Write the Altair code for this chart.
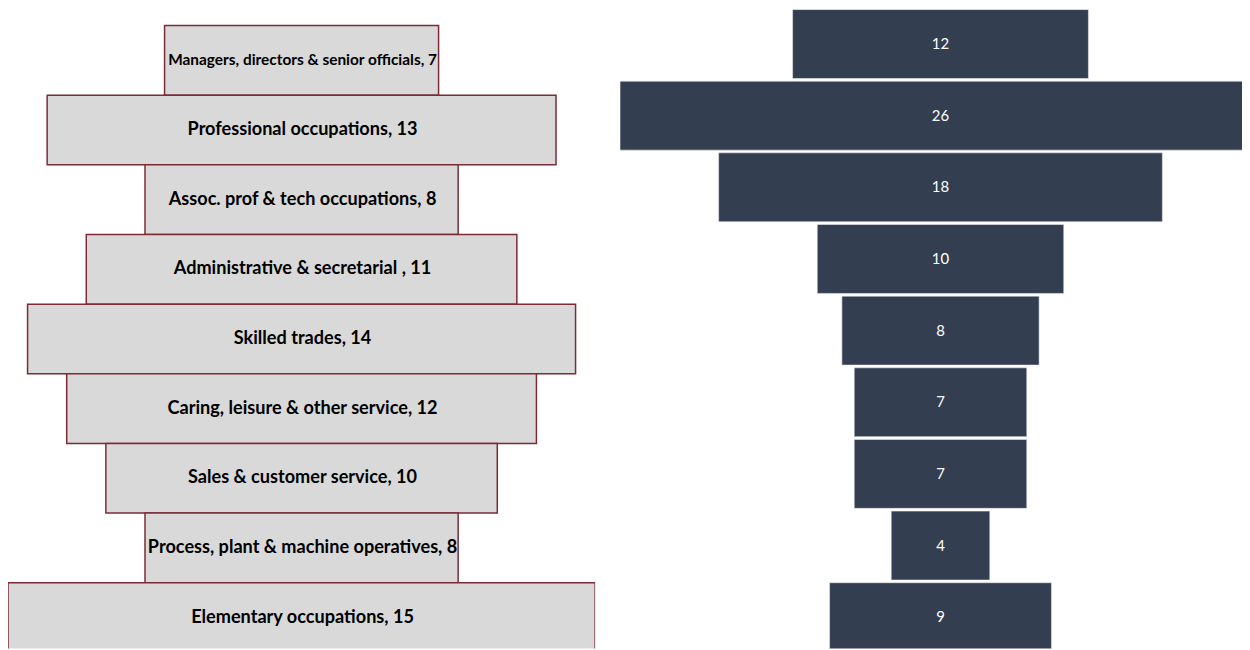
import altair as alt
import pandas as pd

occupations = [
    "Managers, directors & senior officials",
    "Professional occupations",
    "Assoc. prof & tech occupations",
    "Administrative & secretarial ",
    "Skilled trades",
    "Caring, leisure & other service",
    "Sales & customer service",
    "Process, plant & machine operatives",
    "Elementary occupations",
]
left_values = [7, 13, 8, 11, 14, 12, 10, 8, 15]
right_values = [12, 26, 18, 10, 8, 7, 7, 4, 9]

df = pd.DataFrame({
    "row": list(range(len(occupations))),
    "occupation": occupations,
    "left": left_values,
    "right": right_values,
})

FONT = "Lato"

left_base = alt.Chart(df).transform_calculate(
    x0="-datum.left / 2",
    x1="datum.left / 2",
    y0="datum.row",
    y1="datum.row + 1",
    yc="datum.row + 0.5",
    label="datum.occupation + ', ' + datum.left",
)
lx = alt.Scale(domain=[-7.5, 7.5], nice=False, zero=False)
ly = alt.Scale(domain=[-0.229, 8.943], reverse=True, nice=False, zero=False)

left_bars = left_base.mark_bar(
    fill="#D9D9D9", stroke="#7B2B35", strokeWidth=1.5, clip=True
).encode(
    x=alt.X("x0:Q", scale=lx, axis=None),
    x2="x1:Q",
    y=alt.Y("y0:Q", scale=ly, axis=None),
    y2="y1:Q",
)
left_text = left_base.mark_text(
    font=FONT, fontWeight="bold", color="#000000", align="center", baseline="middle", clip=True
).encode(
    x=alt.value(296),
    y=alt.Y("yc:Q", scale=ly, axis=None),
    text="label:N",
    size=alt.condition("datum.row == 0", alt.value(15.5), alt.value(18.2)),
)
left = alt.layer(left_bars, left_text).properties(width=590, height=642)

right_base = alt.Chart(df).transform_calculate(
    x0="-datum.right / 2",
    x1="datum.right / 2",
    y0="datum.row",
    y1="datum.row + 0.962",
    yc="datum.row + 0.481",
)
rx = alt.Scale(domain=[-13.0, 12.23], nice=False, zero=False)
ry = alt.Scale(domain=[0.0, 8.917], reverse=True, nice=False, zero=False)

right_bars = right_base.mark_bar(
    fill="#333F50", stroke="#E6E8EC", strokeWidth=0.6, clip=True
).encode(
    x=alt.X("x0:Q", scale=rx, axis=None),
    x2="x1:Q",
    y=alt.Y("y0:Q", scale=ry, axis=None),
    y2="y1:Q",
)
right_text = right_base.mark_text(
    font=FONT, fontSize=15, color="#FFFFFF", align="center", baseline="middle", clip=True
).encode(
    x=alt.value(322),
    y=alt.Y("yc:Q", scale=ry, axis=None),
    text="right:Q",
)
right = alt.layer(right_bars, right_text).properties(width=625, height=642)

chart = alt.hconcat(left, right, spacing=25).properties(padding=0).configure_view(
    stroke=None
).configure_concat(spacing=25)

chart.save("out.html", embed_options={"renderer": "svg", "actions": False})
